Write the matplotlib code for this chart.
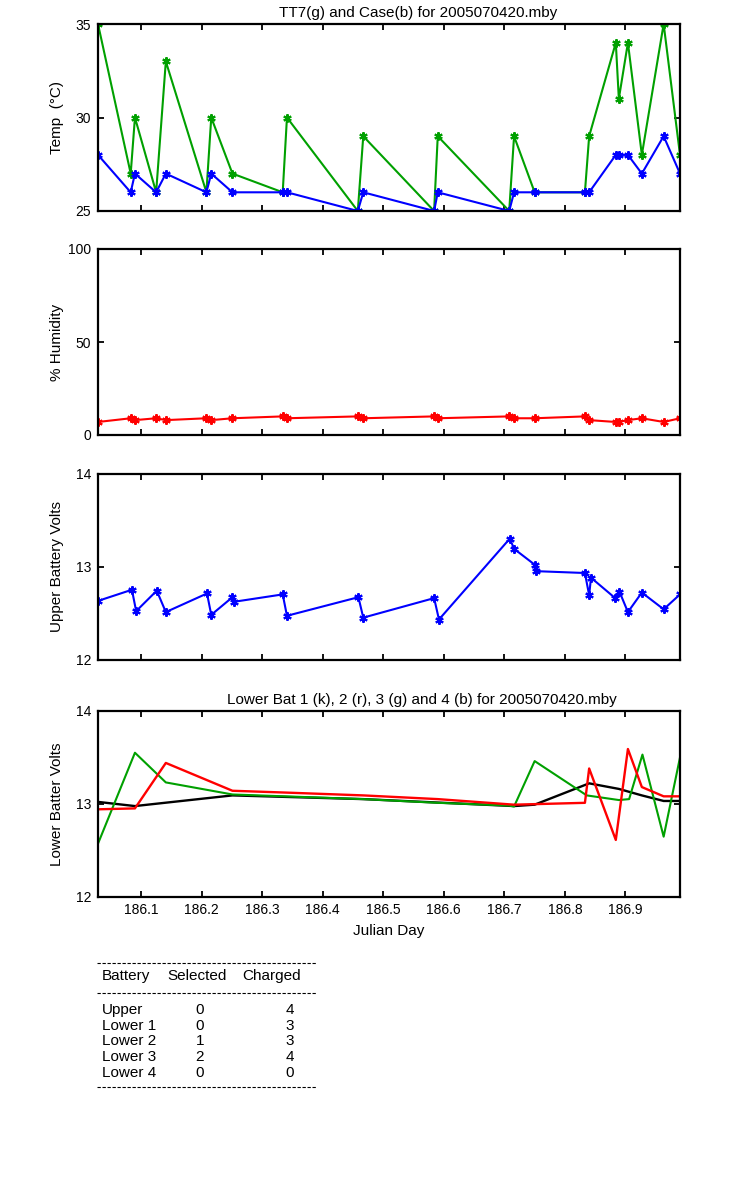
import matplotlib
matplotlib.use('Agg')
import matplotlib.pyplot as plt
from matplotlib.lines import Line2D

plt.rcParams['font.family'] = ['Liberation Sans', 'DejaVu Sans']

# sample times (Julian day) shared by temperature and humidity
t = [186.029, 186.083, 186.090, 186.125, 186.141, 186.208, 186.216, 186.251,
     186.334, 186.341, 186.458, 186.467, 186.584, 186.590, 186.708, 186.716,
     186.750, 186.833, 186.840, 186.884, 186.889, 186.904, 186.927, 186.963,
     186.990]
tt7 = [35, 27, 30, 26, 33, 26, 30, 27, 26, 30, 25, 29, 25, 29, 25, 29,
       26, 26, 29, 34, 31, 34, 28, 35, 28]
case = [28, 26, 27, 26, 27, 26, 27, 26, 26, 26, 25, 26, 25, 26, 25, 26,
        26, 26, 26, 28, 28, 28, 27, 29, 27]
humidity = [7, 9, 8, 9, 8, 9, 8, 9, 10, 9, 10, 9, 10, 9, 10, 9,
            9, 10, 8, 7, 7, 8, 9, 7, 9]

t_upper = [186.029, 186.085, 186.092, 186.126, 186.141, 186.209, 186.216,
           186.251, 186.253, 186.334, 186.341, 186.459, 186.467, 186.584,
           186.592, 186.709, 186.716, 186.750, 186.752, 186.833, 186.840,
           186.843, 186.883, 186.890, 186.904, 186.927, 186.963, 186.990]
upper_v = [12.63, 12.75, 12.52, 12.74, 12.51, 12.71, 12.48, 12.67, 12.62,
           12.70, 12.47, 12.67, 12.45, 12.66, 12.43, 13.30, 13.19, 13.02,
           12.95, 12.93, 12.69, 12.88, 12.66, 12.73, 12.51, 12.72, 12.54,
           12.70]

t_low1 = [186.029, 186.090, 186.251, 186.467, 186.716, 186.750, 186.840,
          186.889, 186.927, 186.963, 186.990]
low1 = [13.02, 12.975, 13.09, 13.05, 12.975, 12.99, 13.22, 13.16, 13.09,
        13.03, 13.03]
t_low2 = [186.029, 186.090, 186.141, 186.251, 186.341, 186.467, 186.590,
          186.716, 186.833, 186.840, 186.884, 186.904, 186.927, 186.963,
          186.990]
low2 = [12.94, 12.95, 13.44, 13.14, 13.12, 13.09, 13.05, 12.99, 13.01,
        13.38, 12.61, 13.59, 13.18, 13.08, 13.08]
t_low3 = [186.029, 186.090, 186.141, 186.251, 186.467, 186.590, 186.708,
          186.716, 186.750, 186.836, 186.889, 186.906, 186.928, 186.963,
          186.990]
low3 = [12.57, 13.55, 13.23, 13.10, 13.05, 13.01, 12.98, 12.97, 13.46,
        13.09, 13.04, 13.05, 13.53, 12.645, 13.50]

xticks = [186.1, 186.2, 186.3, 186.4, 186.5, 186.6, 186.7, 186.8, 186.9]

batteries = ['Upper', 'Lower 1', 'Lower 2', 'Lower 3', 'Lower 4']
selected = [0, 0, 1, 2, 0]
charged = [4, 3, 3, 4, 0]

GREEN = '#00a000'
W, H = 750, 1200
fig = plt.figure(figsize=(7.5, 12), dpi=100)


def make_ax(top, bottom):
    ax = fig.add_axes([98 / W, 1 - bottom / H, 582 / W, (bottom - top) / H])
    ax.set_xlim(t[0], t[-1])
    ax.set_xticks(xticks)
    ax.tick_params(direction='in', top=True, right=True, length=4,
                   width=1.3, labelsize=10, pad=5)
    for s in ax.spines.values():
        s.set_linewidth(1.6)
    return ax


mk = dict(marker=(6, 2, 0), markersize=6, markeredgewidth=1.5)

ax1 = make_ax(24, 211)
ax1.plot(t, tt7, '-', color=GREEN, lw=1.5, mec=GREEN, **mk)
ax1.plot(t, case, '-', color='blue', lw=1.5, mec='blue', **mk)
ax1.set_ylim(25, 35)
ax1.set_yticks([25, 30, 35])
ax1.set_xticklabels([])
ax1.set_ylabel('Temp  (\u00b0C)', fontsize=11)
ax1.set_title('TT7(g) and Case(b) for 2005070420.mby', fontsize=11,
              x=0.55, pad=5)

ax2 = make_ax(249, 435)
ax2.plot(t, humidity, '-', color='red', lw=1.5, mec='red', **mk)
ax2.set_ylim(0, 100)
ax2.set_yticks([0, 50, 100])
ax2.set_xticklabels([])
ax2.set_ylabel('% Humidity', fontsize=11)

ax3 = make_ax(473.5, 659.5)
ax3.plot(t_upper, upper_v, '-', color='blue', lw=1.5, mec='blue', **mk)
ax3.set_ylim(12, 14)
ax3.set_yticks([12, 13, 14])
ax3.set_xticklabels([])
ax3.set_ylabel('Upper Battery Volts', fontsize=11)

ax4 = make_ax(711, 896.5)
ax4.plot(t_low1, low1, '-', color='black', lw=1.7)
ax4.plot(t_low3, low3, '-', color=GREEN, lw=1.5)
ax4.plot(t_low2, low2, '-', color='red', lw=1.7)
ax4.set_ylim(12, 14)
ax4.set_yticks([12, 13, 14])
ax4.set_xticklabels([f'{v:.1f}' for v in xticks])
ax4.set_xlabel('Julian Day', fontsize=11, labelpad=5)
ax4.set_ylabel('Lower Batter Volts', fontsize=11)
ax4.set_title('Lower Bat 1 (k), 2 (r), 3 (g) and 4 (b) for 2005070420.mby',
              fontsize=11, x=0.557, pad=5)

for ax in (ax1, ax2, ax3, ax4):
    ax.yaxis.set_label_coords(-0.058, 0.5)

# summary table under the plots
for y in (962.7, 993.3, 1087):
    fig.add_artist(Line2D([97 / W, 317 / W], [1 - y / H, 1 - y / H],
                          color='black', lw=0.8, dashes=(3, 1.5)))

fig.text(102 / W, 1 - 976 / H, 'Battery', fontsize=11, va='center')
fig.text(167 / W, 1 - 976 / H, 'Selected', fontsize=11, va='center')
fig.text(242 / W, 1 - 976 / H, 'Charged', fontsize=11, va='center')
for i, name in enumerate(batteries):
    y = 1 - (1010 + i * 15.7) / H
    fig.text(102 / W, y, name, fontsize=11, va='center')
    fig.text(200 / W, y, str(selected[i]), fontsize=11, va='center', ha='center')
    fig.text(290 / W, y, str(charged[i]), fontsize=11, va='center', ha='center')

fig.savefig('out.png', dpi=100)
